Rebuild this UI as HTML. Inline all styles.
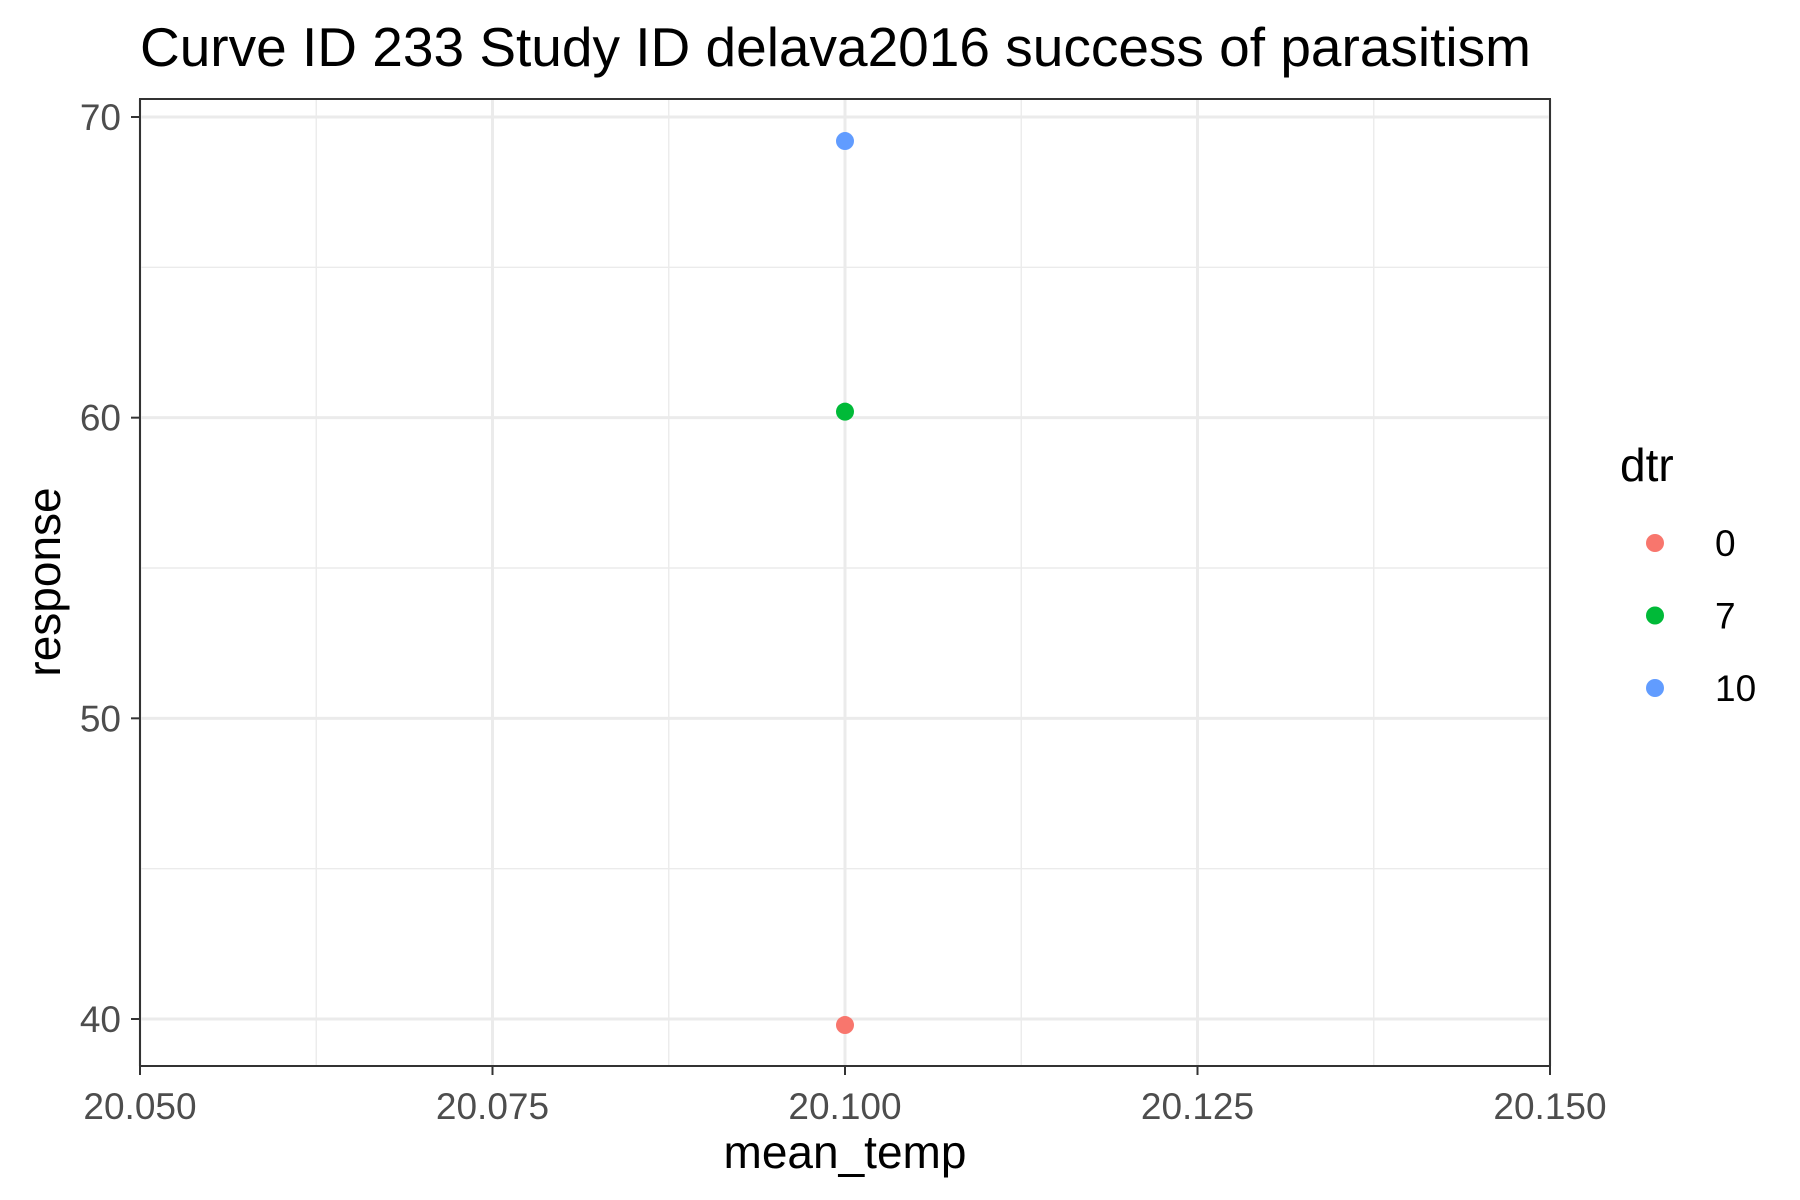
<!DOCTYPE html>
<html><head><meta charset="utf-8"><style>body{margin:0;background:#fff}svg{display:block;font-family:"Liberation Sans",sans-serif}</style></head>
<body>
<svg id="chart" width="1800" height="1200" viewBox="0 0 1800 1200">
<rect width="1800" height="1200" fill="#fff"/>
<text x="140" y="66" font-size="55" fill="#000">Curve ID 233 Study ID delava2016 success of parasitism</text>
<g id="grid"></g>
<g id="points"></g>
<rect x="140" y="99" width="1410" height="967" fill="none" stroke="#333" stroke-width="2"/>
<g id="axes"></g>
<text x="845" y="1168" font-size="46" text-anchor="middle">mean_temp</text>
<text transform="translate(60,582) rotate(-90)" font-size="46" text-anchor="middle">response</text>
<text x="1620" y="481" font-size="46">dtr</text>
<g id="legend"></g>
</svg>
<script>
const xTicks=[20.05,20.075,20.1,20.125,20.15];
const xTickLabels=["20.050","20.075","20.100","20.125","20.150"];
const yTicks=[40,50,60,70];
const yTickLabels=["40","50","60","70"];
const seriesNames=["0","7","10"];
const seriesColors=["#F8766D","#00BA38","#619CFF"];
const pointX=[20.1,20.1,20.1];
const pointY=[39.8,60.2,69.2];
const L=140,R=1550,T=99,B=1066;
const xs=v=>L+(v-20.05)/0.1*(R-L);
const ys=v=>1019-(v-40)/30*(1019-117);
const NS="http://www.w3.org/2000/svg";
function mk(p,t,a){const e=document.createElementNS(NS,t);for(const k in a)e.setAttribute(k,a[k]);p.appendChild(e);return e;}
const g=document.getElementById('grid');
mk(g,'rect',{x:L,y:T,width:R-L,height:B-T,fill:'#fff'});
for(let i=0;i<xTicks.length-1;i++){const m=(xTicks[i]+xTicks[i+1])/2;const e=mk(g,'line',{x1:xs(m),x2:xs(m),y1:T,y2:B,stroke:'#ebebeb','stroke-width':1.4});

}
for(let i=0;i<yTicks.length-1;i++){const m=(yTicks[i]+yTicks[i+1])/2;const e=mk(g,'line',{x1:L,x2:R,y1:ys(m),y2:ys(m),stroke:'#ebebeb','stroke-width':1.4});

}
xTicks.forEach(v=>{const e=mk(g,'line',{x1:xs(v),x2:xs(v),y1:T,y2:B,stroke:'#ebebeb','stroke-width':3});

});
yTicks.forEach(v=>{const e=mk(g,'line',{x1:L,x2:R,y1:ys(v),y2:ys(v),stroke:'#ebebeb','stroke-width':3});

});
const a=document.getElementById('axes');
xTicks.forEach((v,i)=>{mk(a,'line',{x1:xs(v),x2:xs(v),y1:B,y2:B+9,stroke:'#333','stroke-width':2});
const t=mk(a,'text',{x:xs(v),y:1119,'font-size':37,fill:'#4d4d4d','text-anchor':'middle'});t.textContent=xTickLabels[i];

});
yTicks.forEach((v,i)=>{mk(a,'line',{x1:L-9,x2:L,y1:ys(v),y2:ys(v),stroke:'#333','stroke-width':2});
const t=mk(a,'text',{x:121,y:ys(v)+13,'font-size':37,fill:'#4d4d4d','text-anchor':'end'});t.textContent=yTickLabels[i];

});
const p=document.getElementById('points');
pointX.forEach((v,i)=>{const c=mk(p,'circle',{cx:xs(v),cy:ys(pointY[i]),r:9,fill:seriesColors[i]});

});
const lg=document.getElementById('legend');
seriesNames.forEach((n,i)=>{const y=543+i*72.5;
const c=mk(lg,'circle',{cx:1655,cy:y,r:9,fill:seriesColors[i]});


const t=mk(lg,'text',{x:1715,y:y+13,'font-size':37});t.textContent=n;

});
</script>
</body></html>
